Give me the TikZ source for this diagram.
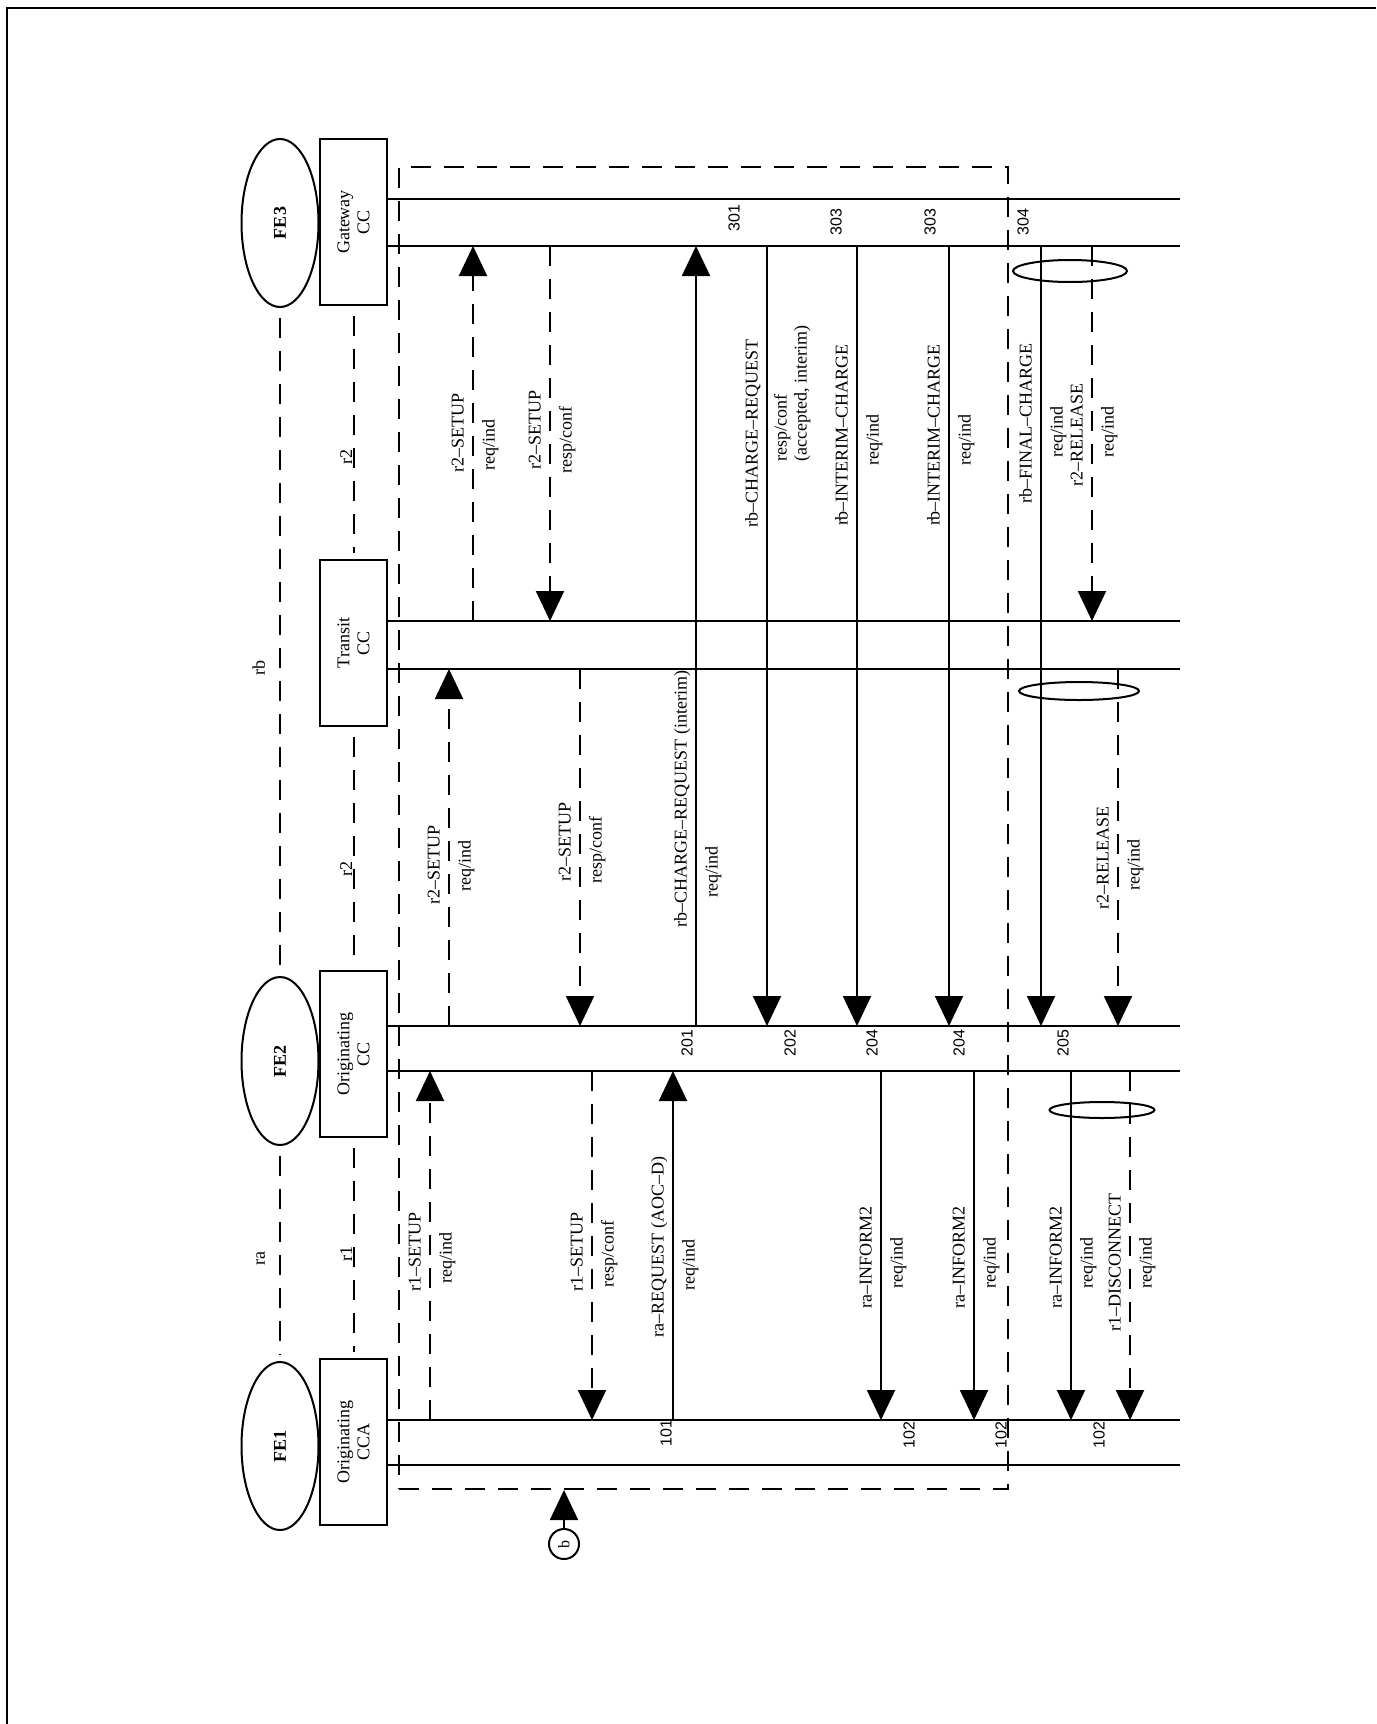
\documentclass[tikz,border=0pt]{standalone}
\usepackage{fontspec}
\setmainfont{Liberation Serif}
\newfontfamily\numfont{Liberation Sans}
\usetikzlibrary{arrows.meta, shapes.geometric}

\begin{document}
\begin{tikzpicture}[
  x=0.5pt, y=-0.5pt, line width=1pt,
  fe/.style={ellipse, draw, rotate=90, minimum width=84pt, minimum height=38.5pt,
             inner sep=0pt, font=\bfseries\fontsize{9}{10}\selectfont},
  ent/.style={rectangle, draw, rotate=90, minimum width=83pt, minimum height=33.5pt,
              inner sep=1pt, align=center, font=\fontsize{9}{10}\selectfont},
  dsh/.style={dash pattern=on 10pt off 6.5pt},
  link/.style={dsh, shorten <=5pt, shorten >=3pt},
  arr/.style={-{Triangle[length=15pt,width=14pt]}},
  darr/.style={arr, dsh},
  lbl/.style={rotate=90, inner sep=3pt, font=\fontsize{9}{10}\selectfont},
  lblL/.style={lbl, anchor=south, text depth=.25ex},
  lblR/.style={lbl, anchor=north, text height=1.6ex},
  num/.style={rotate=90, inner sep=0pt, font=\numfont\fontsize{8}{9}\selectfont},
  grp/.style={ellipse, draw, inner sep=0pt},
]
\useasboundingbox (0,0) rectangle (1376,1724);

% sheet edge
\draw[line width=1.2pt] (7,1724) -- (7,8) -- (1376,8);

% functional entities
\node[fe] (fe3) at (280,223) {FE3};
\node[fe] (fe2) at (280,1061) {FE2};
\node[fe] (fe1) at (280,1446) {FE1};
\node[ent] (gwcc) at (353.5,222) {Gateway\\CC};
\node[ent] (trcc) at (353.5,643) {Transit\\CC};
\node[ent] (occ)  at (353.5,1054) {Originating\\CC};
\node[ent] (cca)  at (353.5,1442) {Originating\\CCA};

\draw[link] (fe3) -- (fe2);
\draw[link] (fe2) -- (fe1);
\draw[link] (gwcc) -- (trcc);
\draw[link] (trcc) -- (occ);
\draw[link] (occ) -- (cca);
\node[lbl, anchor=south, inner sep=7pt] (rb) at (280,668) {rb};
\node[lbl, anchor=south, inner sep=7pt] (ra) at (280,1258) {ra};
\node[lbl, anchor=south, inner sep=1pt] (r2a) at (355,457) {r2};
\node[lbl, anchor=south, inner sep=1pt] (r2b) at (355,869) {r2};
\node[lbl, anchor=south, inner sep=1pt] (r1) at (355,1254) {r1};

% dashed frame and reference b
\node[draw, dsh, minimum width=304.5pt, minimum height=661pt, inner sep=0pt] (frame) at (703.5,828) {};
\node[circle, draw, minimum size=15pt, inner sep=0pt, rotate=90,
      font=\fontsize{8}{9}\selectfont] (bref) at (564,1544) {b};
\draw[arr] (bref) -- (bref |- frame.south);

% lifelines
\coordinate (gw1) at (388,199);
\coordinate (gw2) at (386,246);
\coordinate (tr1) at (388,621);
\coordinate (tr2) at (386,669);
\coordinate (oc1) at (387,1026);
\coordinate (oc2) at (386,1071);
\coordinate (cca1) at (386,1420);
\coordinate (cca2) at (386,1465);
\coordinate (rim) at (1180,0);
\foreach \l in {gw1,gw2,tr1,tr2,oc1,oc2,cca1,cca2}
  \draw (\l) -- (\l -| rim);

% set-up
\draw[darr] (430,0 |- cca1) -- (430,0 |- oc2);
\node[lblL] (m1a) at (430,1252) {r1--SETUP};
\node[lblR] (m1b) at (430,1258) {req/ind};
\draw[darr] (449,0 |- oc1) -- (449,0 |- tr2);
\node[lblL] (m2a) at (449,865) {r2--SETUP};
\node[lblR] (m2b) at (449,866) {req/ind};
\draw[darr] (473,0 |- tr1) -- (473,0 |- gw2);
\node[lblL] (m3a) at (473,433) {r2--SETUP};
\node[lblR] (m3b) at (473,445) {req/ind};
\draw[darr] (550,0 |- gw2) -- (550,0 |- tr1);
\node[lblL] (m4a) at (550,430) {r2--SETUP};
\node[lblR] (m4b) at (550,440) {resp/conf};
\draw[darr] (580,0 |- tr2) -- (580,0 |- oc1);
\node[lblL] (m5a) at (580,842) {r2--SETUP};
\node[lblR] (m5b) at (580,850) {resp/conf};
\draw[darr] (592,0 |- oc2) -- (592,0 |- cca1);
\node[lblL] (m6a) at (592,1252) {r1--SETUP};
\node[lblR] (m6b) at (592,1254) {resp/conf};

% charging
\draw[arr] (673,0 |- cca1) -- (673,0 |- oc2);
\node[lblL] (m7a) at (673,1247) {ra--REQUEST (AOC--D)};
\node[lblR] (m7b) at (673,1265) {req/ind};
\draw[arr] (696,0 |- oc1) -- (696,0 |- gw2);
\node[lblL] (m8a) at (696,799) {rb--CHARGE--REQUEST (interim)};
\node[lblR] (m8b) at (696,872) {req/ind};
\draw[arr] (767,0 |- gw2) -- (767,0 |- oc1);
\node[lblL] (m9a) at (767,433) {rb--CHARGE--REQUEST};
\node[lbl, anchor=north west, align=left] (m9b) at (767,468) {resp/conf\\(accepted, interim)};
\draw[arr] (857,0 |- gw2) -- (857,0 |- oc1);
\node[lblL] (m10a) at (857,435) {rb--INTERIM--CHARGE};
\node[lblR] (m10b) at (857,440) {req/ind};
\draw[arr] (949,0 |- gw2) -- (949,0 |- oc1);
\node[lblL] (m11a) at (949,435) {rb--INTERIM--CHARGE};
\node[lblR] (m11b) at (949,440) {req/ind};
\draw[arr] (881,0 |- oc2) -- (881,0 |- cca1);
\node[lblL] (m15a) at (881,1257) {ra--INFORM2};
\node[lblR] (m15b) at (881,1263) {req/ind};
\draw[arr] (974,0 |- oc2) -- (974,0 |- cca1);
\node[lblL] (m16a) at (974,1257) {ra--INFORM2};
\node[lblR] (m16b) at (974,1263) {req/ind};

% release
\draw[arr] (1041,0 |- gw2) -- (1041,0 |- oc1);
\node[lblL] (m12a) at (1041,423) {rb--FINAL--CHARGE};
\node[lblR] (m12b) at (1041,432) {req/ind};
\draw[darr] (1092,0 |- gw2) -- (1092,0 |- tr1);
\node[lblL] (m13a) at (1092,435) {r2--RELEASE};
\node[lblR] (m13b) at (1092,432) {req/ind};
\draw[darr] (1118,0 |- tr2) -- (1118,0 |- oc1);
\node[lblL] (m14a) at (1118,858) {r2--RELEASE};
\node[lblR] (m14b) at (1118,865) {req/ind};
\draw[arr] (1071,0 |- oc2) -- (1071,0 |- cca1);
\node[lblL] (m17a) at (1071,1257) {ra--INFORM2};
\node[lblR] (m17b) at (1071,1263) {req/ind};
\draw[darr] (1130,0 |- oc2) -- (1130,0 |- cca1);
\node[lblL] (m18a) at (1130,1262) {r1--DISCONNECT};
\node[lblR] (m18b) at (1130,1263) {req/ind};

\node[grp, minimum width=57pt, minimum height=11pt] (g1) at (1070,271) {};
\node[grp, minimum width=60pt, minimum height=9pt] (g2) at (1079,691) {};
\node[grp, minimum width=52.5pt, minimum height=8pt] (g3) at (1102,1110) {};

% step numbers
\node[num] (n301) at (734,218) {301};
\node[num] (n303a) at (836,222) {303};
\node[num] (n303b) at (930,222) {303};
\node[num] (n304) at (1023,222) {304};
\node[num] (n201) at (687,1043) {201};
\node[num] (n202) at (790,1043) {202};
\node[num] (n204a) at (872,1043) {204};
\node[num] (n204b) at (959,1043) {204};
\node[num] (n205) at (1063,1043) {205};
\node[num] (n101) at (666,1433) {101};
\node[num] (n102a) at (909,1435) {102};
\node[num] (n102b) at (1001,1435) {102};
\node[num] (n102c) at (1099,1435) {102};

\end{tikzpicture}
\end{document}
